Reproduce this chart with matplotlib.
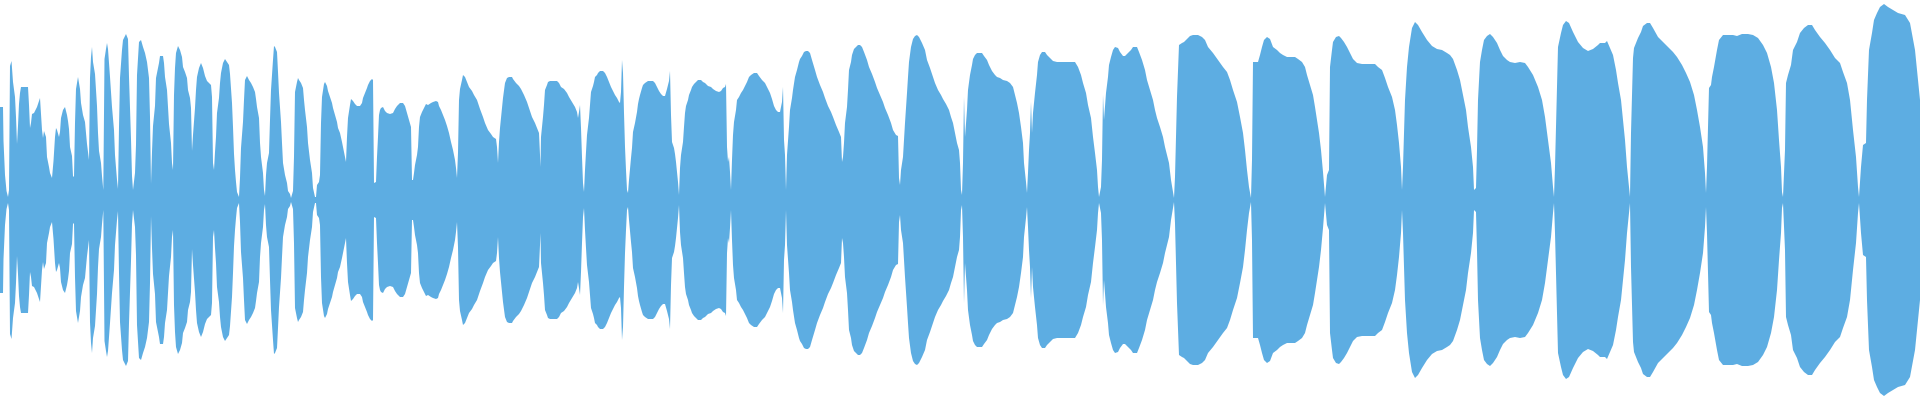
import numpy as np
import matplotlib
matplotlib.use("Agg")
import matplotlib.pyplot as plt

# Peak envelope of the waveform: (time position, peak level 0..200), mirrored around zero
seg_1 = [(0,93),(3,93),(3.5,59),(5,25),(6.5,9),(8,3),(9,10),(10,134),(11.5,139),(13,118),(15,103),(16,83),(17,56),(18,74),(19,96),(20,107),(21,113),(28,113),(29,95),(30,72),(31,77),(32,86),(34,87),(37,93),(40,102),(42,70),(43,62),(44,69),(46,63),(47,43),(49,33),(50,27),(52,22),(53.5,39),(55,63),(56,72),(57,70),(59,63),(60,68),(61,82),(63,90),(65,93),(67,85),(68,79),(69,71),(70,53),(72,44),(73,24),(74,23),(75,77),(76,111),(78,123),(80,111),(81,97),(83,85),(85,78),(86,67),(87,56),(89,40),(90,122),(91,143),(92,153),(93,138),(95,126),(97,94),(98,67),(99,49),(101,37),(102,24),(103.3,10),(104.5,141),(106,151),(107,157),(108,151),(110,123),(112,93),(114,70),(115,45),(117,20),(118,11),(119,73),(120,122),(122,150),(123,160),(126,166),(128,161),(129,123),(131,61),(132,24),(133,10),(135,27),(136,55),(137,125),(139,158),(141,160),(143,153),(145,147),(147,138),(149,122),(150,83),(151,16),(152,48),(153,74),(155,94),(156,122),(158,132),(159,137)]
seg_2 = [(160,144),(163,144),(164,137),(165,123),(167,110),(168,93),(169,76),(171,57),(172,37),(173,30),(174,105),(175,132),(176,147),(178,154),(180,150),(182,143),(183,133),(185,128),(187,122),(188,110),(190,102),(191,92),(192,49),(193,65),(195,92),(196,110),(197,123),(199,132),(201,137),(203,132),(205,124),(207,119),(209,117),(211,115),(212,103),(213,37),(214,30),(215,48),(216,63),(217,87),(219,102),(220,117),(221,127),(223,137),(225,141),(227,138),(229,135),(230,126),(232,97),(233,73),(234,46),(235,30),(236,18),(237,8),(239,3),(240,22),(241,52),(243,78),(244,100),(245,120),(247,124),(249,120),(251,117),(253,113),(255,108),(256,101),(257,93),(259,82),(260,57),(261,43),(263,27),(264,10),(265,4),(266,25),(267,37),(269,47),(270,80),(271,110),(273,140),(274,154),(275,153),(277,148),(278,128),(279,107),(281,78),(282,57),(283,37),(285,25),(287,17),(288,9),(290,6),(291,2),(293,9),(294,43),(295,108),(297,118),(298,122),(299,120),(301,117),(303,112),(304,100),(305,90),(307,73),(308,57),(310,40),(312,27),(313,12),(315,3),(316,3),(317,15),(319,18)]
seg_3 = [(320,25),(321,77),(322,103),(324,116),(325,118),(327,114),(328,109),(330,103),(332,97),(333,92),(335,85),(337,78),(338,72),(340,67),(342,58),(343,53),(345,43),(346,38),(347,63),(348,82),(350,95),(351,101),(353,99),(355,96),(357,94),(360,94),(362,97),(363,102),(365,107),(367,112),(368,115),(370,119),(372,121),(373,120),(374,17),(376,18),(377,43),(378,63),(379,85),(380,90),(381,92),(383,93),(385,89),(387,87),(390,86),(393,87),(395,91),(397,94),(400,97),(403,97),(405,94),(407,87),(409,80),(411,73),(412,20),(413,20),(414,27),(415,35),(417,45),(418,53),(419,73),(420,83),(422,88),(423,90),(426,96),(428,95),(431,97),(433,98),(436,99),(438,98),(439,94),(441,90),(443,85),(445,80),(447,74),(449,67),(451,58),(453,50),(455,40),(456,32),(457,22),(458,47),(459,100),(460,111),(462,120),(463,125),(465,123),(467,118),(469,113),(472,109),(474,105),(477,100),(479,94)]
seg_4 = [(480,91),(483,83),(485,77),(488,70),(491,66),(493,63),(496,61),(497,53),(498,37),(499,58),(500,72),(502,92),(503,102),(505,117),(507,122),(509,123),(512,123),(513,121),(516,117),(519,114),(521,111),(524,105),(527,98),(529,92),(532,83),(535,77),(537,72),(539,67),(540,45),(540.5,33),(541,63),(543,83),(544,95),(545,110),(547,115),(548,118),(550,119),(557,119),(559,117),(561,113),(564,111),(567,107),(569,103),(572,98),(575,93),(577,88),(578,82),(579,88),(580,95),(581,72),(582,43),(583,17),(584,8),(585,30),(586,48),(587,65),(589,82),(590,95),(591,108),(593,114),(594,118),(595,123),(597,125),(598,127),(600,129),(603,129),(605,127),(607,123),(609,118),(611,113),(613,109),(615,105),(617,102),(619,98),(620,97),(621,108),(622,140),(623,127),(624,87),(625,53),(626,30),(627,10),(628,7),(629,20),(631,42),(632,52),(633,68),(635,77),(637,88),(638,96),(639,101)]
seg_5 = [(640,105),(642,112),(643,115),(645,117),(648,119),(653,119),(655,117),(657,113),(659,109),(661,106),(663,104),(665,104),(667,111),(669,119),(670,129),(671,85),(672,58),(674,52),(675,46),(676,38),(677,28),(678,18),(679,5),(680,32),(681,45),(683,58),(684,73),(685,87),(686,94),(688,100),(689,105),(691,110),(692,113),(694,116),(696,118),(698,120),(701,120),(703,118),(705,117),(708,114),(711,113),(713,111),(716,109),(719,108),(721,109),(723,112),(725,113),(726,116),(727,53),(728,38),(729,43),(730,28),(731,10),(732,40),(733,65),(734,78),(736,90),(737,100),(739,103),(741,107),(743,110),(745,114),(747,118),(749,123),(751,125),(754,127),(757,127),(759,124),(762,120),(765,117),(767,113),(770,107),(772,101),(774,94),(776,90),(778,88),(780,88),(782,98),(783,113),(784,60),(785,45),(786,10),(787,45),(789,73),(790,90),(792,102),(793,110),(795,123),(797,130),(799,138)]
seg_6 = [(800,141),(802,144),(804,148),(806,149),(808,149),(810,147),(812,140),(815,130),(817,123),(820,115),(823,108),(825,102),(828,94),(831,88),(833,83),(836,75),(839,68),(841,63),(842,38),(843,43),(844,57),(845,77),(847,93),(848,110),(849,130),(851,138),(852,145),(854,151),(856,153),(858,155),(860,155),(862,153),(864,148),(867,140),(869,133),(872,126),(875,118),(877,112),(880,105),(883,98),(885,92),(888,85),(891,77),(893,70),(896,65),(898,64),(899,22),(900,15),(901,30),(903,43),(904,60),(905,77),(907,107),(908,123),(909,138),(911,153),(913,161),(915,164),(917,165),(919,163),(922,157),(925,150),(927,140),(930,132),(933,123),(935,117),(938,110),(941,105),(943,101),(946,96),(949,90),(951,83),(953,77),(955,67),(957,57),(959,50)]
seg_7 = [(960,37),(961,10),(962,5),(963,37),(964,103),(965,63),(967,90),(968,110),(970,125),(972,135),(973,141),(975,145),(977,147),(982,147),(984,144),(987,140),(989,135),(992,129),(995,125),(997,123),(1000,122),(1003,120),(1007,119),(1010,117),(1013,113),(1015,105),(1017,97),(1019,87),(1021,73),(1023,57),(1024,37),(1026,18),(1027,7),(1028,27),(1029,50),(1030,67),(1031,98),(1032,67),(1033,87),(1035,107),(1037,125),(1038,138),(1040,145),(1042,148),(1045,148),(1047,145),(1050,142),(1053,139),(1057,138),(1075,138),(1078,133),(1081,125),(1083,117),(1086,107),(1088,95),(1091,82),(1093,63),(1095,47),(1097,30),(1098,13),(1099,3),(1101,13),(1102,40),(1103,105),(1104,80),(1106,107),(1108,123),(1109,135),(1111,143),(1113,150),(1115,153),(1118,152),(1120,148),(1123,144),(1125,144),(1128,147),(1131,150),(1133,153),(1137,153),(1139,148),(1142,140),(1145,130),(1147,120),(1150,110),(1153,100),(1155,90),(1157,82),(1160,73),(1163,63),(1165,53),(1167,45),(1169,37),(1171,20),(1173,8),(1174,2),(1175,23),(1177,103),(1179,155),(1182,157),(1184,158),(1187,161),(1190,164),(1193,165),(1198,165),(1202,163),(1205,160),(1208,153),(1213,147),(1218,140),(1223,133),(1227,128),(1230,120),(1233,110),(1237,98),(1240,83),(1243,67),(1245,50),(1247,30),(1249,13),(1251,2),(1252,40),(1253,138),(1258,138),(1260,145),(1262,153),(1264,160),(1267,163),(1270,161),(1273,153),(1277,150)]
seg_8 = [(1280,147),(1283,145),(1287,143),(1295,143),(1298,141),(1302,138),(1305,133),(1307,125),(1310,115),(1313,105),(1315,93),(1317,80),(1319,67),(1321,50),(1323,28),(1325,3),(1327,25),(1329,30),(1330,133),(1332,150),(1333,158),(1336,163),(1339,164),(1341,162),(1344,158),(1347,153),(1350,147),(1353,141),(1357,137),(1362,136),(1375,136),(1378,133),(1382,130),(1385,122),(1388,113),(1392,103),(1395,90),(1397,75),(1399,57),(1401,33),(1402,10),(1403,33),(1405,100),(1407,133),(1409,153),(1412,172),(1415,178),(1418,175),(1422,168),(1427,160),(1432,154),(1437,151),(1442,150),(1447,147),(1450,145),(1453,141),(1457,130),(1460,120),(1463,105),(1466,90),(1468,73),(1471,53),(1473,33),(1474,10),(1476,12),(1477,50),(1478,100),(1480,138),(1482,150),(1484,160),(1487,164),(1490,166),(1493,163),(1497,157),(1500,150),(1503,144),(1507,140),(1510,138),(1515,137),(1520,138),(1525,137),(1528,133),(1533,125),(1538,113),(1542,100),(1545,83),(1548,60),(1551,37),(1553,13),(1554,3),(1555,33),(1557,113),(1558,153),(1561,167),(1563,175),(1566,179),(1569,177),(1573,168),(1578,158),(1583,152),(1588,149),(1593,151),(1598,155)]
seg_9 = [(1600,157),(1605,157),(1607,159),(1610,152),(1613,145),(1616,130),(1618,117),(1621,100),(1623,80),(1625,60),(1627,33),(1629,13),(1630,3),(1631,67),(1633,142),(1634,152),(1636,157),(1638,162),(1641,168),(1643,174),(1647,177),(1650,177),(1653,172),(1658,163),(1663,158),(1668,153),(1673,148),(1677,143),(1682,135),(1686,127),(1690,118),(1694,105),(1697,90),(1700,73),(1703,53),(1705,27),(1706,7),(1707,33),(1709,112),(1711,115),(1712,123),(1714,133),(1717,150),(1719,160),(1723,165),(1733,165),(1737,164),(1742,166),(1748,166),(1753,165),(1758,162),(1763,155),(1767,147),(1771,133),(1774,117),(1777,90),(1779,60),(1781,33),(1782,8),(1783,3),(1785,50),(1786,117),(1788,125),(1791,135),(1793,150),(1797,158),(1800,167),(1804,172),(1808,175),(1812,175),(1815,170),(1820,163),(1825,157),(1830,150),(1835,142),(1840,137),(1843,128),(1847,117),(1850,100),(1853,70),(1856,43),(1858,13),(1859,3),(1861,33),(1863,55),(1866,57),(1867,100),(1869,150),(1872,167),(1874,180),(1877,187),(1880,193),(1884,196),(1888,193),(1893,190),(1898,187),(1905,185),(1910,177),(1915,150),(1918,120),(1920,100)]

segments = [seg_1, seg_2, seg_3, seg_4, seg_5, seg_6, seg_7, seg_8, seg_9]
pairs = [p for seg in segments for p in seg]
t = np.array([p[0] for p in pairs], dtype=float)
peak = np.array([p[1] for p in pairs], dtype=float)

WAVE_COLOR = "#5dade2"

fig = plt.figure(figsize=(19.2, 4.0), dpi=100)
fig.patch.set_facecolor("white")
ax = fig.add_axes([0, 0, 1, 1])
ax.fill_between(t, -peak, peak, color=WAVE_COLOR, linewidth=0, antialiased=True)
ax.set_xlim(0, 1920)
ax.set_ylim(-200, 200)
ax.axis("off")

fig.savefig("out.png", dpi=100, facecolor="white")
